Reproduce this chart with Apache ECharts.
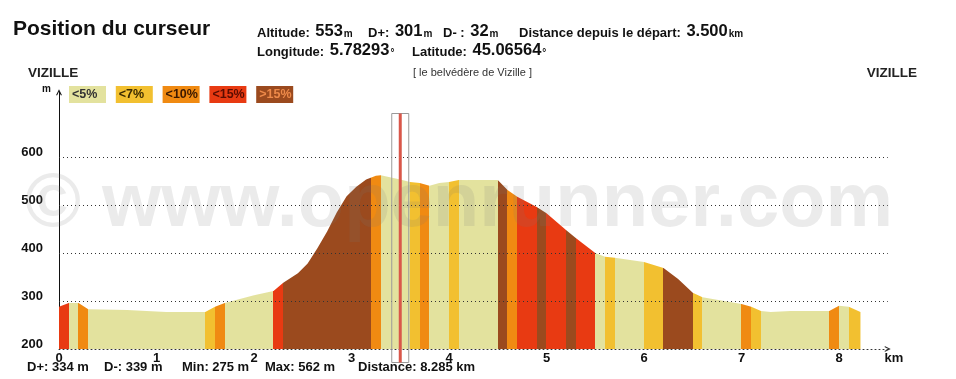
<!DOCTYPE html>
<html><head><meta charset="utf-8">
<script src="https://cdn.jsdelivr.net/npm/echarts@6/dist/echarts.min.js"></script>
<style>html,body{margin:0;padding:0;background:#fff}#c{width:956px;height:379px}</style>
</head><body><div id="c"></div>
<script>
// ---- data ----
const distKm = [0, 0.1, 0.2, 0.3, 0.7, 1.1, 1.5, 1.6, 1.7, 2.0, 2.2, 2.3, 2.45, 2.55, 2.65, 2.75, 2.85, 2.95, 3.05, 3.15, 3.25, 3.3, 3.5, 3.6, 3.7, 3.8, 3.9, 4.0, 4.1, 4.5, 4.6, 4.7, 4.9, 5.0, 5.2, 5.3, 5.5, 5.6, 5.7, 6.0, 6.2, 6.35, 6.5, 6.6, 7.0, 7.1, 7.2, 7.3, 7.5, 7.9, 8.0, 8.1, 8.22];
const altM = [288, 296, 296, 283, 281, 277, 277, 288, 296, 312, 321, 338, 358, 378, 410, 445, 485, 518, 538, 553, 561, 562, 553, 548, 546, 540, 546, 548, 552, 552, 531, 517, 496, 483, 448, 431, 400, 392, 390, 381, 369, 346, 317, 308, 294, 288, 279, 277, 279, 279, 290, 288, 277];
const bandEdges = [0, 0.1, 0.2, 0.3, 1.5, 1.6, 1.7, 2.2, 2.3, 3.2, 3.3, 3.6, 3.7, 3.8, 4.0, 4.1, 4.5, 4.6, 4.7, 4.9, 5.0, 5.2, 5.3, 5.5, 5.6, 5.7, 6.0, 6.2, 6.5, 6.6, 7.0, 7.1, 7.2, 7.9, 8.0, 8.1, 8.22];
const bandClass = [3,0,2,0,1,2,0,3,4,2,0,1,2,0,1,0,4,2,3,4,3,4,3,0,1,0,1,4,1,0,2,1,0,2,0,1];
const classNames = ['<5%', '<7%', '<10%', '<15%', '>15%'];
const classColors = ['#e3e29e', '#f2c030', '#f08a12', '#e83a12', '#9b4a1e'];
const classTextColors = ['#333', '#3a2a00', '#3a1800', '#5a0c00', '#ee8a4a'];
const yLabelVals = [200, 300, 400, 500, 600];
const gridLineVals = [200, 300, 400, 500, 600];
const cursorKm = 3.5;
const headerLine1 = [['Altitude:', '553', 'm'], ['D+:', '301', 'm'], ['D- :', '32', 'm'], ['Distance depuis le départ:', '3.500', 'km']];
const headerLine2 = [['Longitude:', '5.78293', '°'], ['Latitude:', '45.06564', '°']];
const statsTexts = ['D+: 334 m', 'D-: 339 m', 'Min: 275 m', 'Max: 562 m', 'Distance: 8.285 km'];

const FF = '"Liberation Sans", Arial, sans-serif';
const chart = echarts.init(document.getElementById('c'), null, {renderer: 'canvas'});

const pieces = bandClass.map((c, i) => {
  const p = {gte: bandEdges[i], color: classColors[c]};
  if (i === bandClass.length - 1) p.lte = bandEdges[i + 1]; else p.lt = bandEdges[i + 1];
  return p;
});
const profile = distKm.map((d, i) => [d, altM[i]]);

chart.setOption({
  animation: false,
  backgroundColor: '#fff',
  grid: {left: 59, top: 92.2, width: 828.75, height: 256.8},
  xAxis: {
    type: 'value', min: 0, max: 8.5, interval: 1,
    axisLine: {show: true, symbol: ['none', 'path://M0,10L5,0L10,10L8,10L5,4L2,10Z'], symbolSize: [7, 6],
      lineStyle: {color: '#333', type: [1, 3], width: 1}},
    axisTick: {show: false}, splitLine: {show: false},
    axisLabel: {showMaxLabel: false, margin: 3, color: '#111', fontFamily: FF, fontWeight: 'bold', fontSize: 13}
  },
  yAxis: {
    type: 'value', min: 200, max: 735, interval: 100,
    axisLine: {show: true, symbol: ['none', 'path://M0,10L5,0L10,10L8,10L5,4L2,10Z'], symbolSize: [7, 6],
      lineStyle: {color: '#111', width: 1}},
    axisTick: {show: false}, splitLine: {show: false},
    axisLabel: {margin: 16, color: '#111', fontFamily: FF, fontWeight: 'bold', fontSize: 13,
      verticalAlign: 'bottom', lineHeight: 10,
      formatter: v => yLabelVals.indexOf(v) >= 0 ? String(v) : ''}
  },
  visualMap: {show: false, type: 'piecewise', dimension: 0, seriesIndex: 0, pieces: pieces,
    outOfRange: {color: classColors[1]}},
  series: [
    {type: 'line', data: profile, symbol: 'none', showSymbol: false, z: 3, silent: true,
      lineStyle: {width: 0, opacity: 0}, areaStyle: {opacity: 1, origin: 'start'}},
    {type: 'line', data: profile, symbol: 'none', showSymbol: false, z: 1, silent: true,
      lineStyle: {width: 0, opacity: 0},
      markLine: {silent: true, symbol: ['none', 'none'], animation: false, label: {show: false},
        lineStyle: {type: [1, 3], color: '#333', width: 1},
        emphasis: {disabled: true},
        data: gridLineVals.map(v => ({yAxis: v}))}}
  ]
});

// ---- decorations ----
const G = [];
function txt(x, y, text, font, fill, align, va, z) {
  G.push({type: 'text', x: x, y: y, z: z || 50, silent: true,
    style: {text: text, font: font, fill: fill || '#111', align: align || 'left', verticalAlign: va || 'middle'}});
}
function richGroup(x, yBottom, parts) {
  G.push({type: 'text', x: x, y: yBottom, z: 50, silent: true,
    style: {text: '{l|' + parts[0] + ' }{v|' + parts[1] + '}{u|' + parts[2] + '}', align: 'left', verticalAlign: 'bottom',
      rich: {
        l: {fontFamily: FF, fontWeight: 'bold', fontSize: 13, lineHeight: 13, verticalAlign: 'bottom', fill: '#111', padding: [0, 2, 0, 0]},
        v: {fontFamily: FF, fontWeight: 'bold', fontSize: 16.5, lineHeight: 16.5, verticalAlign: 'bottom', fill: '#111'},
        u: {fontFamily: FF, fontWeight: 'bold', fontSize: 10, lineHeight: 10, verticalAlign: 'bottom', fill: '#111', padding: [0, 0, 0, 1]}
      }}});
}
txt(13, 29, 'Position du curseur', 'bold 21px ' + FF, '#111');
const l1x = [257, 368, 443, 519];
headerLine1.forEach((p, i) => richGroup(l1x[i], 39.5, p));
const l2x = [257, 412];
headerLine2.forEach((p, i) => richGroup(l2x[i], 58.5, p));
txt(28, 73, 'VIZILLE', 'bold 13.5px ' + FF, '#222');
txt(917, 73, 'VIZILLE', 'bold 13.5px ' + FF, '#222', 'right');
txt(472.5, 73, '[ le belvédère de Vizille ]', '11px ' + FF, '#333', 'center');
txt(51, 89, 'm', 'bold 10px ' + FF, '#111', 'right');
// legend boxes
classNames.forEach((n, i) => {
  const x0 = 69 + i * 46.8;
  G.push({type: 'rect', shape: {x: x0, y: 86, width: 37, height: 17}, style: {fill: classColors[i]}, z: 40, silent: true});
  txt(x0 + 3, 95, n, 'bold 12.5px ' + FF, classTextColors[i], 'left', 'middle', 41);
});
// bottom stats
const statX = [27, 104, 182, 265, 358];
statsTexts.forEach((s, i) => txt(statX[i], 367, s, 'bold 13px ' + FF, '#111'));
txt(894, 358, 'km', 'bold 13px ' + FF, '#111', 'center');
// watermark
txt(25, 205, '© www.openrunner.com', 'bold 76px ' + FF, 'rgba(120,120,120,0.15)', 'left', 'middle', 60);
// cursor
const cx = chart.convertToPixel({xAxisIndex: 0}, cursorKm);
G.push({type: 'rect', shape: {x: cx - 8.5, y: 113.5, width: 17, height: 249}, style: {fill: 'none', stroke: '#9a9a9a', lineWidth: 1}, z: 70, silent: true});
G.push({type: 'line', shape: {x1: cx, y1: 113.5, x2: cx, y2: 362.5}, style: {stroke: '#d9574a', lineWidth: 3}, z: 71, silent: true});

chart.setOption({graphic: {elements: G}});
</script></body></html>
